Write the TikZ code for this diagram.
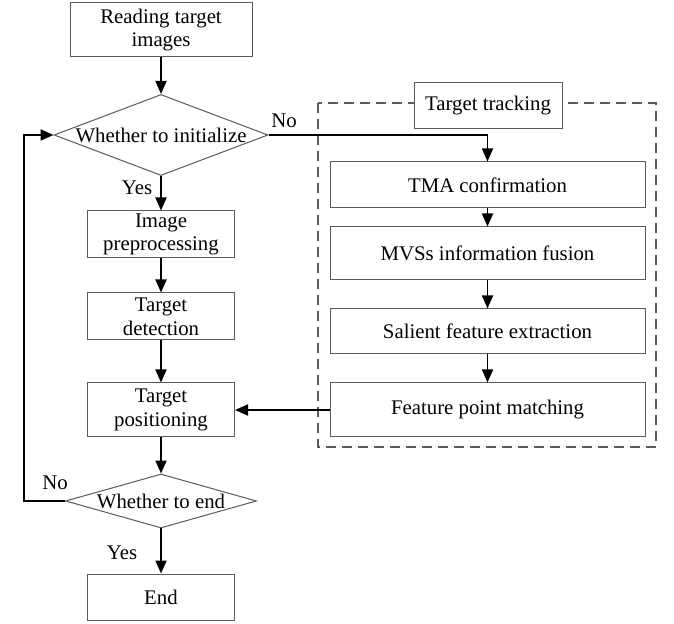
\documentclass[tikz,border=0pt]{standalone}
\usepackage{fontspec}
\setmainfont{Liberation Serif}
\usepackage{tikz}
\usetikzlibrary{arrows.meta, shapes.geometric}
\definecolor{boxgray}{RGB}{90,90,90}

\begin{document}
\begin{tikzpicture}[
    x=0.5pt, y=-0.5pt,
    font=\fontsize{10.4}{11.8}\selectfont,
    box/.style={rectangle, draw=boxgray, line width=0.5pt, fill=white,
                align=center, inner sep=1pt},
    decide/.style={diamond, draw=boxgray, line width=0.5pt, inner sep=0pt, align=center},
    arrow/.style={-{Triangle[length=6.5pt, width=5.5pt]}, line width=0.9pt, black}
]
\useasboundingbox (0,0) rectangle (674,624);

% target tracking frame
\draw[boxgray, line width=0.6pt, dash pattern=on 5pt off 3pt] (318,103) rectangle (656,447);
\node[box, minimum width=74pt, minimum height=23pt] (tracking) at (488,106) {Target tracking};

% main flow
\node[box, minimum width=91pt, minimum height=27pt] (read) at (161,30) {Reading target\\images};
\node[decide, minimum width=107pt, minimum height=40.5pt, aspect=2.6] (init) at (161,135) {Whether to initialize};
\node[box, minimum width=73.5pt, minimum height=23.5pt] (prep) at (161,234.5) {Image\\preprocessing};
\node[box, minimum width=73.5pt, minimum height=23.5pt] (detect) at (161,316.5) {Target\\detection};
\node[box, minimum width=73.5pt, minimum height=27pt] (pos) at (161,410) {Target\\positioning};
\node[decide, minimum width=95.5pt, minimum height=27pt, aspect=3.6] (finish) at (161,501) {Whether to end};
\node[box, minimum width=73.5pt, minimum height=23pt] (stop) at (161,597) {End};

% tracking steps
\node[box, minimum width=157.5pt, minimum height=23pt] (tma) at (487.5,185) {TMA confirmation};
\node[box, minimum width=157.5pt, minimum height=26.5pt] (fusion) at (487.5,253.5) {MVSs information fusion};
\node[box, minimum width=157.5pt, minimum height=22.5pt] (salient) at (487.5,331.5) {Salient feature extraction};
\node[box, minimum width=157.5pt, minimum height=27pt] (match) at (487.5,410) {Feature point matching};

% labels
\node (yesinit) at (137,188) {Yes};
\node (noinit) at (284,121) {No};
\node (noend) at (55,483) {No};
\node (yesend) at (122,553) {Yes};

\coordinate (loop) at (24,501);

\draw[arrow] (read) -- (init);
\draw[arrow] (init) -- (prep);
\draw[arrow] (prep) -- (detect);
\draw[arrow] (detect) -- (pos);
\draw[arrow] (pos) -- (finish);
\draw[arrow] (finish) -- (stop);
\draw[arrow] (finish.west) -- (loop) |- (init.west);
\draw[arrow] (init.east) -| (tma.north);
\draw[arrow] (tma) -- (fusion);
\draw[arrow] (fusion) -- (salient);
\draw[arrow] (salient) -- (match);
\draw[arrow] (match.west) -- (pos.east);
\end{tikzpicture}
\end{document}
